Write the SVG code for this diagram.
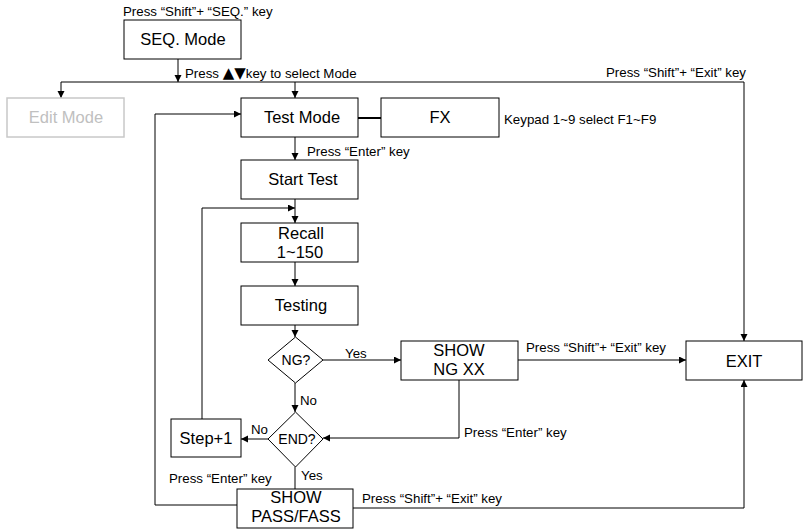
<svg xmlns="http://www.w3.org/2000/svg" width="803" height="530" viewBox="0 0 803 530">
<defs>
<marker id="arr" markerUnits="userSpaceOnUse" markerWidth="9" markerHeight="8" refX="7" refY="3.5" orient="auto">
<path d="M0,0 L7,3.5 L0,7 z" fill="#000"/>
</marker>
<style>
text{font-family:"Liberation Sans",Arial,sans-serif;fill:#000}
.box{fill:#fff;stroke:#000;stroke-width:1}
.gray{fill:#fff;stroke:#c8c8c8;stroke-width:1.5}
.bt{font-size:16.5px;text-anchor:middle}
.dt{font-size:14px;text-anchor:middle}
.lb{font-size:13.3px}
.sym{font-family:"DejaVu Sans",sans-serif;font-size:15px}
.c{fill:none;stroke:#000;stroke-width:1}
.ca{fill:none;stroke:#000;stroke-width:1;marker-end:url(#arr)}
</style>
</defs>
<rect width="803" height="530" fill="#fff"/>
<g id="connectors">
<path class="ca" d="M178,59 V82"/>
<path class="c" d="M61,82 H744"/>
<path class="ca" d="M61,82 V98"/>
<path class="ca" d="M295,82 V98"/>
<path class="ca" d="M744,82 V341"/>
<path class="c" d="M358,118 H381" style="stroke-width:2"/>
<path class="ca" d="M295,137 V160"/>
<path class="ca" d="M295,199 V223"/>
<path class="ca" d="M202,419 V208 H295"/>
<path class="ca" d="M295,262 V286"/>
<path class="ca" d="M295,325 V337"/>
<path class="ca" d="M323,360 H401"/>
<path class="ca" d="M295,383 V412"/>
<path class="ca" d="M518,360 H686"/>
<path class="ca" d="M459,380 V438 H323"/>
<path class="ca" d="M268,439 H241"/>
<path class="c" d="M295,467 V489"/>
<path class="ca" d="M237,505 H155 V114 H241"/>
<path class="ca" d="M353,508 H744 V380"/>
<text class="lb" x="123" y="16">Press “Shift”+ “SEQ.” key</text>
<text class="lb" x="185" y="78">Press <tspan class="sym">▲▼</tspan>key to select Mode</text>
<text class="lb" x="746" y="77" text-anchor="end">Press “Shift”+ “Exit” key</text>
<text class="lb" x="504" y="124">Keypad 1~9 select F1~F9</text>
<text class="lb" x="307" y="156">Press “Enter” key</text>
<text class="lb" x="345" y="358">Yes</text>
<text class="lb" x="526" y="352">Press “Shift”+ “Exit” key</text>
<text class="lb" x="300" y="405">No</text>
<text class="lb" x="251" y="434">No</text>
<text class="lb" x="464" y="437">Press “Enter” key</text>
<text class="lb" x="301" y="480">Yes</text>
<text class="lb" x="169" y="483">Press “Enter” key</text>
<text class="lb" x="362" y="503">Press “Shift”+ “Exit” key</text>
</g>
<g id="seq-mode"><rect class="box" x="124" y="20" width="117" height="39"/><text class="bt" x="183" y="45">SEQ. Mode</text></g>
<g id="edit-mode"><rect class="gray" x="7" y="98" width="117" height="39"/><text class="bt" x="66" y="123" style="fill:#c0c0c0">Edit Mode</text></g>
<g id="test-mode"><rect class="box" x="241" y="98" width="117" height="39"/><text class="bt" x="302" y="123">Test Mode</text></g>
<g id="fx"><rect class="box" x="381" y="98" width="118" height="39"/><text class="bt" x="440" y="123">FX</text></g>
<g id="start-test"><rect class="box" x="241" y="160" width="117" height="39"/><text class="bt" x="303" y="185">Start Test</text></g>
<g id="recall"><rect class="box" x="241" y="223" width="117" height="39"/><text class="bt" x="301" y="239">Recall</text><text class="bt" x="300" y="258">1~150</text></g>
<g id="testing"><rect class="box" x="241" y="286" width="117" height="39"/><text class="bt" x="301" y="311">Testing</text></g>
<g id="ng"><path class="box" d="M295.5,337 L323,360 L295.5,383 L268,360 z"/><text class="dt" x="296" y="365">NG?</text></g>
<g id="show-ng"><rect class="box" x="401" y="341" width="117" height="39"/><text class="bt" x="459" y="356">SHOW</text><text class="bt" x="459" y="375">NG XX</text></g>
<g id="exit"><rect class="box" x="686" y="341" width="116" height="39"/><text class="bt" x="744" y="367">EXIT</text></g>
<g id="end"><path class="box" d="M295.5,412 L323,439 L295.5,467 L268,439 z"/><text class="dt" x="297" y="444">END?</text></g>
<g id="step"><rect class="box" x="171" y="419" width="70" height="38"/><text class="bt" x="206" y="444">Step+1</text></g>
<g id="show-pass"><rect class="box" x="237" y="489" width="116" height="39"/><text class="bt" x="296" y="503">SHOW</text><text class="bt" x="296" y="522">PASS/FASS</text></g>
</svg>
